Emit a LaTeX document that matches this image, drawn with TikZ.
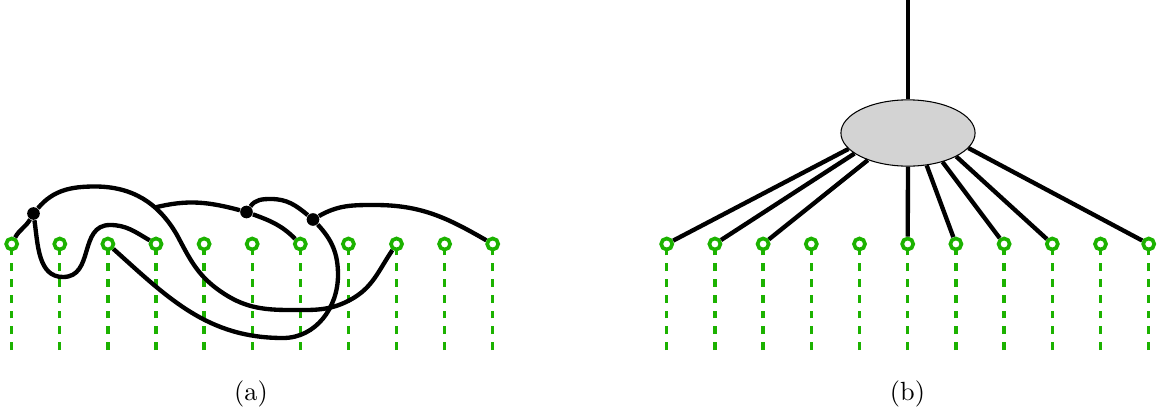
\documentclass[tikz,border=0pt]{standalone}
\usetikzlibrary{shapes.geometric}
\definecolor{pgreen}{RGB}{28,178,0}
\definecolor{egray}{RGB}{211,211,211}
\begin{document}
\begin{tikzpicture}[x=0.3802pt,y=-0.3802pt,
  port/.style={circle,draw=pgreen,fill=white,line width=1.4pt,minimum size=4.2pt,inner sep=0pt},
  gdash/.style={draw=pgreen,line width=1.25pt,dash pattern=on 3pt off 3pt},
  wire/.style={line width=1.65pt,draw=black},
  knot/.style={circle,fill=black,minimum size=4.8pt,inner sep=0pt},
  blob/.style={ellipse,draw=black,line width=0.4pt,fill=egray,minimum width=51pt,minimum height=25.2pt,inner sep=0pt}]
\useasboundingbox (0,0) rectangle (1159,412);
% ports
\foreach \i in {0,...,10}{
  \node[port] (c\i) at ({11.7+48.1*\i},244) {};
  \node[port] (r\i) at ({666.7+48.2*\i},244) {};
  \coordinate (cb\i) at ({11.7+48.1*\i},350);
  \coordinate (rb\i) at ({666.7+48.2*\i},350);
}
\foreach \i in {0,...,10}{
  \draw[gdash] (cb\i) -- (c\i);
  \draw[gdash] (rb\i) -- (r\i);
}
% (a) knots and strands
\node[knot] (A) at (33.5,213.5) {};
\node[knot] (B) at (246.5,212) {};
\node[knot] (C) at (313,219.5) {};
\coordinate (J) at (155,207.5);
\coordinate (P1) at (95,186.5);
\coordinate (P2) at (177,235);
\coordinate (P2b) at (220,291);
\coordinate (P3) at (290,310);
\coordinate (P4) at (350,300);
\coordinate (H1) at (63,277);
\coordinate (H2) at (110,225);
\coordinate (F1) at (271,199);
\coordinate (G1) at (375,205);
\coordinate (L1) at (283,338);
\coordinate (L2) at (338,275);
\draw[wire] (c0) to[out=62,in=240] (A);
\draw[wire] (A) to[out=50,in=180] (P1) to[out=0,in=120] (P2) to[out=-62,in=145] (P2b)
  to[out=-35,in=180] (P3) to[out=0,in=208] (P4) to[out=28,in=236] (c8);
\draw[wire] (A) to[out=-82,in=180] (H1) to[out=0,in=180,looseness=1.15] (H2) to[out=0,in=150] (c3);
\draw[wire] (J) to[out=14,in=165] (B);
\draw[wire] (B) to[out=-20,in=135] (c6);
\draw[wire] (B) to[out=55,in=180] (F1) to[out=0,in=140] (C);
\draw[wire] (C) to[out=30,in=180] (G1) to[out=0,in=150] (c10);
\draw[wire] (c2) to[out=-42,in=180] (L1) to[out=0,in=-90] (L2) to[out=90,in=-47] (C);
% (b)
\node[blob] (E) at (908,133) {};
\coordinate (T) at (908,0);
\draw[wire] (T) -- (E.north);
\foreach \r/\a in {0/195,1/201,2/214,5/270,6/300,7/320,8/334,10/346}
  \draw[wire] (r\r) -- (E.\a);
% labels
\node (la) at (251,394) {(a)};
\node (lb) at (907.5,394) {(b)};
\end{tikzpicture}
\end{document}
